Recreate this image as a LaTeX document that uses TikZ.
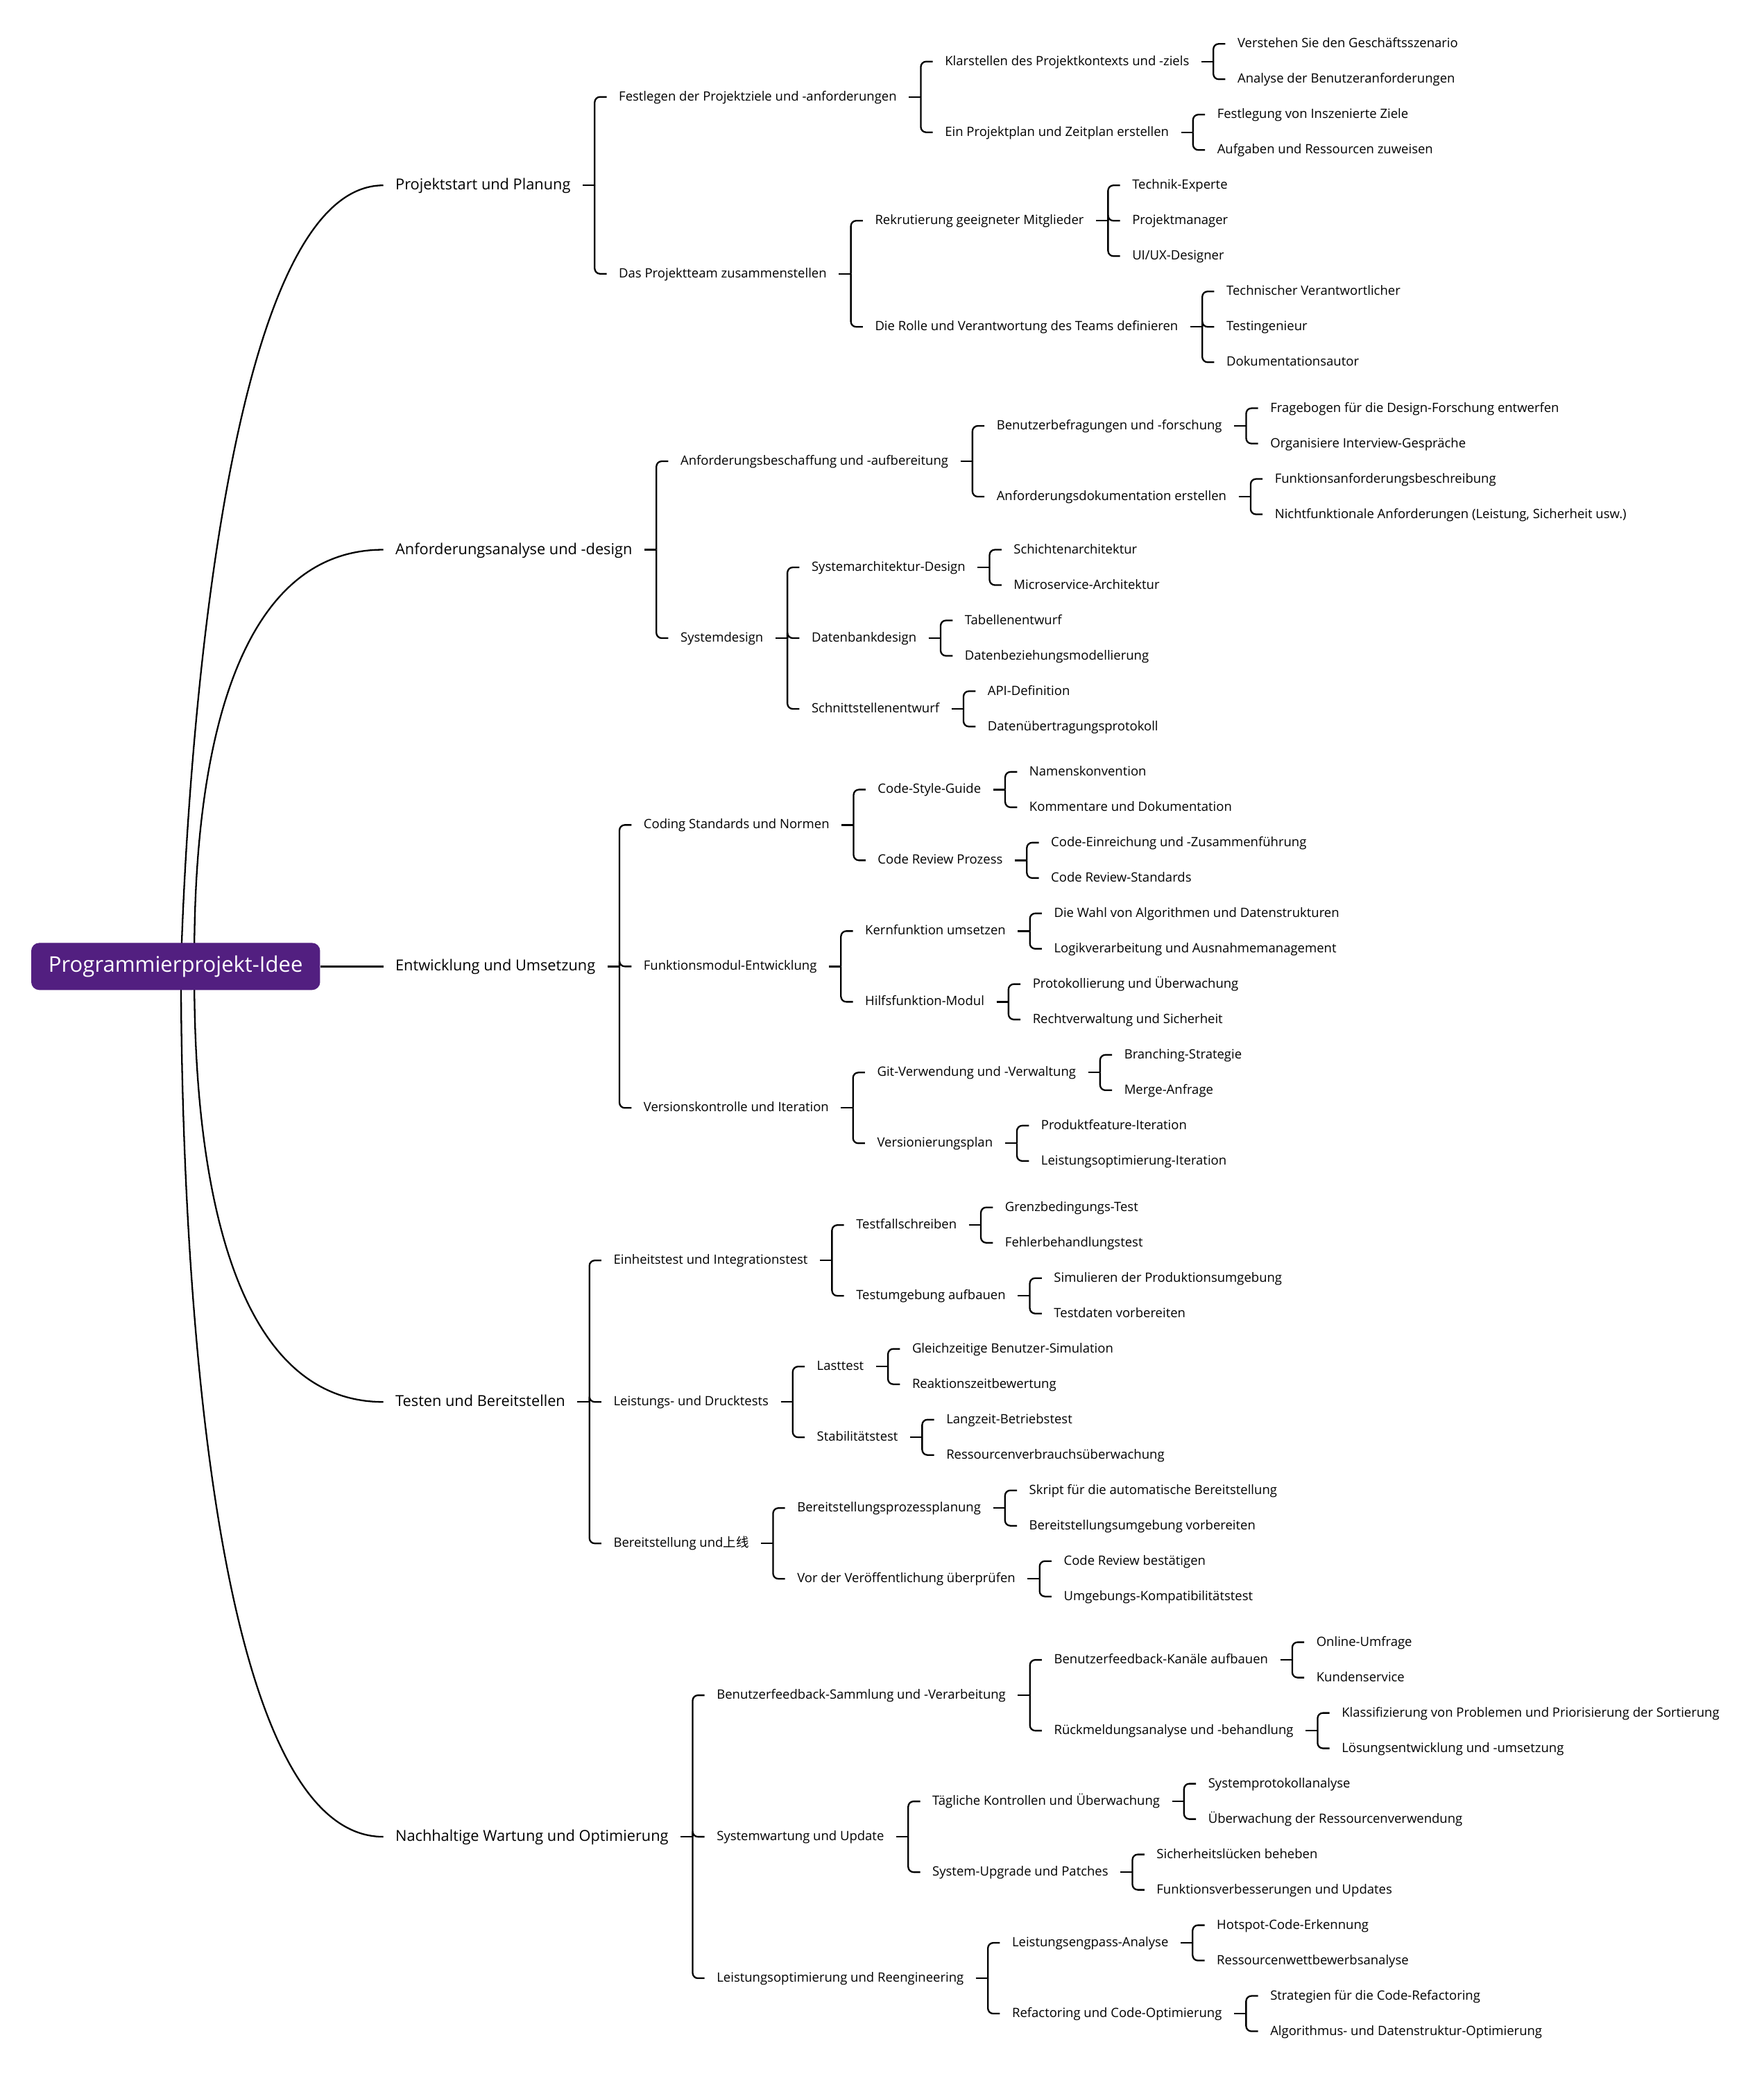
\documentclass[tikz,border=0pt]{standalone}
\usepackage{fontspec}
\setmainfont{Open Sans}
\newfontfamily\cjk{Noto Sans CJK SC}
\usetikzlibrary{positioning, backgrounds}
\definecolor{rootpurple}{HTML}{521F80}
\tikzset{
  rootbox/.style={rectangle,rounded corners=6pt,fill=rootpurple,text=white,
    minimum width=217.2pt,minimum height=35.4pt,font=\fontsize{16.2}{18}\selectfont},
  topic/.style={inner xsep=9pt,inner ysep=0pt,text height=9.1pt,text depth=2.3pt,
    font=\fontsize{11.35}{13}\selectfont},
  subtopic/.style={inner xsep=9pt,inner ysep=0pt,text height=7.7pt,text depth=1.9pt,
    font=\fontsize{9.65}{11}\selectfont},
  link/.style={line width=1.2pt,black},
}
% child node right of its parent, with bracket line
\newcommand\addkid[4]{%
  \node[subtopic,right=18pt of #1,yshift=#3pt] (#2) {#4};
  \draw[link] (#1.east) -- ++(9pt,0);
  \draw[link,rounded corners=4pt] ([xshift=9pt]#1.east) |- (#2.west);
}

\begin{document}
\begin{tikzpicture}[x=1pt,y=-1pt]
  \useasboundingbox (0,0) rectangle (1326,1568);

  \node[rootbox] (root) at (132.1,726.8) {Programmierprojekt-Idee};

  % main topics
  \node[topic,right=47.3pt of root,yshift=587.4pt] (proj) {Projektstart und Planung};
  \node[topic,right=47.3pt of root,yshift=313.4pt] (anf) {Anforderungsanalyse und -design};
  \node[topic,right=47.3pt of root] (ent) {Entwicklung und Umsetzung};
  \node[topic,right=47.3pt of root,yshift=-327.5pt] (test) {Testen und Bereitstellen};
  \node[topic,right=47.3pt of root,yshift=-654.5pt] (wart) {Nachhaltige Wartung und Optimierung};

  \begin{scope}[on background layer]
    \fill[white] (0,0) rectangle (1326,1568);
    \draw[link] ([xshift=4pt]root.center) .. controls +(0,0) and +(-139,0) .. (proj.west);
    \draw[link] ([xshift=14pt]root.center) .. controls +(0,-63) and +(-142,0) .. (anf.west);
    \draw[link] (root.east) -- (ent.west);
    \draw[link] ([xshift=14pt]root.center) .. controls +(0,65) and +(-142,0) .. (test.west);
    \draw[link] ([xshift=4pt]root.center) .. controls +(0,65) and +(-152,0) .. (wart.west);
  \end{scope}

  % Projektstart und Planung
  \addkid{proj}{fest}{66.5}{Festlegen der Projektziele und -anforderungen}
  \addkid{fest}{klar}{26.6}{Klarstellen des Projektkontexts und -ziels}
  \addkid{klar}{verst}{13.3}{Verstehen Sie den Geschäftsszenario}
  \addkid{klar}{anal}{-13.3}{Analyse der Benutzeranforderungen}
  \addkid{fest}{plan}{-26.6}{Ein Projektplan und Zeitplan erstellen}
  \addkid{plan}{festz}{13.3}{Festlegung von Inszenierte Ziele}
  \addkid{plan}{aufg}{-13.3}{Aufgaben und Ressourcen zuweisen}
  \addkid{proj}{team}{-66.5}{Das Projektteam zusammenstellen}
  \addkid{team}{rekr}{39.9}{Rekrutierung geeigneter Mitglieder}
  \addkid{rekr}{techx}{26.6}{Technik-Experte}
  \addkid{rekr}{pm}{0}{Projektmanager}
  \addkid{rekr}{uxd}{-26.6}{UI/UX-Designer}
  \addkid{team}{rolle}{-39.9}{Die Rolle und Verantwortung des Teams definieren}
  \addkid{rolle}{tv}{26.6}{Technischer Verantwortlicher}
  \addkid{rolle}{ting}{0}{Testingenieur}
  \addkid{rolle}{doku}{-26.6}{Dokumentationsautor}

  % Anforderungsanalyse und -design
  \addkid{anf}{beschaff}{66.5}{Anforderungsbeschaffung und -aufbereitung}
  \addkid{beschaff}{befr}{26.6}{Benutzerbefragungen und -forschung}
  \addkid{befr}{frage}{13.3}{Fragebogen für die Design-Forschung entwerfen}
  \addkid{befr}{interv}{-13.3}{Organisiere Interview-Gespräche}
  \addkid{beschaff}{dokE}{-26.6}{Anforderungsdokumentation erstellen}
  \addkid{dokE}{funkb}{13.3}{Funktionsanforderungsbeschreibung}
  \addkid{dokE}{nichtf}{-13.3}{Nichtfunktionale Anforderungen (Leistung, Sicherheit usw.)}
  \addkid{anf}{sysd}{-66.5}{Systemdesign}
  \addkid{sysd}{sysarch}{53.2}{Systemarchitektur-Design}
  \addkid{sysarch}{schicht}{13.3}{Schichtenarchitektur}
  \addkid{sysarch}{micro}{-13.3}{Microservice-Architektur}
  \addkid{sysd}{dbd}{0}{Datenbankdesign}
  \addkid{dbd}{tab}{13.3}{Tabellenentwurf}
  \addkid{dbd}{dbez}{-13.3}{Datenbeziehungsmodellierung}
  \addkid{sysd}{schn}{-53.2}{Schnittstellenentwurf}
  \addkid{schn}{apid}{13.3}{API-Definition}
  \addkid{schn}{datu}{-13.3}{Datenübertragungsprotokoll}

  % Entwicklung und Umsetzung
  \addkid{ent}{coding}{106.4}{Coding Standards und Normen}
  \addkid{coding}{style}{26.6}{Code-Style-Guide}
  \addkid{style}{namk}{13.3}{Namenskonvention}
  \addkid{style}{komm}{-13.3}{Kommentare und Dokumentation}
  \addkid{coding}{crp}{-26.6}{Code Review Prozess}
  \addkid{crp}{einr}{13.3}{Code-Einreichung und -Zusammenführung}
  \addkid{crp}{crs}{-13.3}{Code Review-Standards}
  \addkid{ent}{funk}{0}{Funktionsmodul-Entwicklung}
  \addkid{funk}{kern}{26.6}{Kernfunktion umsetzen}
  \addkid{kern}{wahl}{13.3}{Die Wahl von Algorithmen und Datenstrukturen}
  \addkid{kern}{logik}{-13.3}{Logikverarbeitung und Ausnahmemanagement}
  \addkid{funk}{hilf}{-26.6}{Hilfsfunktion-Modul}
  \addkid{hilf}{proto}{13.3}{Protokollierung und Überwachung}
  \addkid{hilf}{recht}{-13.3}{Rechtverwaltung und Sicherheit}
  \addkid{ent}{vers}{-106.4}{Versionskontrolle und Iteration}
  \addkid{vers}{git}{26.6}{Git-Verwendung und -Verwaltung}
  \addkid{git}{brst}{13.3}{Branching-Strategie}
  \addkid{git}{merge}{-13.3}{Merge-Anfrage}
  \addkid{vers}{vplan}{-26.6}{Versionierungsplan}
  \addkid{vplan}{prodf}{13.3}{Produktfeature-Iteration}
  \addkid{vplan}{leisti}{-13.3}{Leistungsoptimierung-Iteration}

  % Testen und Bereitstellen
  \addkid{test}{einheit}{106.4}{Einheitstest und Integrationstest}
  \addkid{einheit}{tfs}{26.6}{Testfallschreiben}
  \addkid{tfs}{grenz}{13.3}{Grenzbedingungs-Test}
  \addkid{tfs}{fehler}{-13.3}{Fehlerbehandlungstest}
  \addkid{einheit}{tumg}{-26.6}{Testumgebung aufbauen}
  \addkid{tumg}{simu}{13.3}{Simulieren der Produktionsumgebung}
  \addkid{tumg}{tdat}{-13.3}{Testdaten vorbereiten}
  \addkid{test}{lud}{0}{Leistungs- und Drucktests}
  \addkid{lud}{last}{26.6}{Lasttest}
  \addkid{last}{gleich}{13.3}{Gleichzeitige Benutzer-Simulation}
  \addkid{last}{reakt}{-13.3}{Reaktionszeitbewertung}
  \addkid{lud}{stab}{-26.6}{Stabilitätstest}
  \addkid{stab}{langz}{13.3}{Langzeit-Betriebstest}
  \addkid{stab}{ressv}{-13.3}{Ressourcenverbrauchsüberwachung}
  \addkid{test}{bereit}{-106.4}{Bereitstellung und{\cjk 上线}}
  \addkid{bereit}{bpp}{26.6}{Bereitstellungsprozessplanung}
  \addkid{bpp}{skript}{13.3}{Skript für die automatische Bereitstellung}
  \addkid{bpp}{bumg}{-13.3}{Bereitstellungsumgebung vorbereiten}
  \addkid{bereit}{vdv}{-26.6}{Vor der Veröffentlichung überprüfen}
  \addkid{vdv}{crb}{13.3}{Code Review bestätigen}
  \addkid{vdv}{ukomp}{-13.3}{Umgebungs-Kompatibilitätstest}

  % Nachhaltige Wartung und Optimierung
  \addkid{wart}{feedb}{106.4}{Benutzerfeedback-Sammlung und -Verarbeitung}
  \addkid{feedb}{kanal}{26.6}{Benutzerfeedback-Kanäle aufbauen}
  \addkid{kanal}{umfr}{13.3}{Online-Umfrage}
  \addkid{kanal}{kunde}{-13.3}{Kundenservice}
  \addkid{feedb}{rueck}{-26.6}{Rückmeldungsanalyse und -behandlung}
  \addkid{rueck}{klass}{13.3}{Klassifizierung von Problemen und Priorisierung der Sortierung}
  \addkid{rueck}{loes}{-13.3}{Lösungsentwicklung und -umsetzung}
  \addkid{wart}{swu}{0}{Systemwartung und Update}
  \addkid{swu}{tagl}{26.6}{Tägliche Kontrollen und Überwachung}
  \addkid{tagl}{sysp}{13.3}{Systemprotokollanalyse}
  \addkid{tagl}{uebr}{-13.3}{Überwachung der Ressourcenverwendung}
  \addkid{swu}{upgr}{-26.6}{System-Upgrade und Patches}
  \addkid{upgr}{sich}{13.3}{Sicherheitslücken beheben}
  \addkid{upgr}{funkv}{-13.3}{Funktionsverbesserungen und Updates}
  \addkid{wart}{lopt}{-106.4}{Leistungsoptimierung und Reengineering}
  \addkid{lopt}{engp}{26.6}{Leistungsengpass-Analyse}
  \addkid{engp}{hotsp}{13.3}{Hotspot-Code-Erkennung}
  \addkid{engp}{ressw}{-13.3}{Ressourcenwettbewerbsanalyse}
  \addkid{lopt}{refac}{-26.6}{Refactoring und Code-Optimierung}
  \addkid{refac}{strat}{13.3}{Strategien für die Code-Refactoring}
  \addkid{refac}{algo}{-13.3}{Algorithmus- und Datenstruktur-Optimierung}
\end{tikzpicture}
\end{document}
